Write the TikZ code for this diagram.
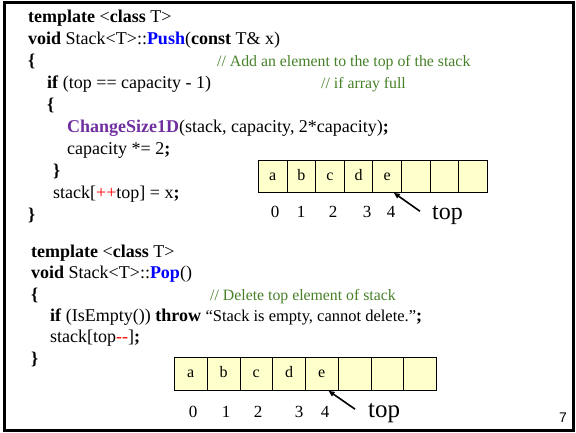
\documentclass[tikz,border=0pt]{standalone}
\usepackage{fontspec}
\setmainfont{Liberation Serif}
\newfontfamily\pagefont{Liberation Sans}
\usetikzlibrary{arrows.meta}

\definecolor{pushblue}{RGB}{0,0,255}
\definecolor{sizepurple}{RGB}{112,48,160}
\definecolor{cmtgreen}{RGB}{70,128,40}
\definecolor{cellyellow}{RGB}{255,255,204}

\newcommand{\kw}[1]{\textbf{#1}}
\newcommand{\cmt}[1]{{\fontsize{15.8}{18}\selectfont\color{cmtgreen}#1}}

\tikzset{
  code/.style={anchor=base west, inner sep=0pt, font=\fontsize{18}{21}\selectfont},
  cell/.style={draw, fill=cellyellow, line width=0.8pt, minimum height=32pt,
    inner sep=0pt, anchor=north west, text height=8pt, text depth=0pt,
    font=\fontsize{16}{18}\selectfont},
  idx/.style={anchor=base, inner sep=0pt, font=\fontsize{17}{19}\selectfont},
  toplabel/.style={anchor=base west, inner sep=0pt, font=\fontsize{24}{26}\selectfont},
  ptr/.style={-{Triangle[length=6pt,width=5pt]}, line width=1.6pt}
}

\begin{document}
\begin{tikzpicture}[x=1pt, y=-1pt]
\useasboundingbox (0,0) rectangle (576,433);
\draw[line width=3pt] (4,3) rectangle (573,430);

% Push
\node[code] (p1) at (28,23) {\kw{template} <\kw{class} T>};
\node[code] (p2) at (28,45) {\kw{void} Stack<T>::\kw{\textcolor{pushblue}{Push}}(\kw{const} T\& x)};
\node[code] (p3) at (28,67) {\kw{\{}};
\node[code] (c1) at (217,67) {\cmt{// Add an element to the top of the stack}};
\node[code] (p4) at (47,89) {\kw{if} (top == capacity - 1)};
\node[code] (c2) at (321,89) {\cmt{// if array full}};
\node[code] (p5) at (47,111) {\kw{\{}};
\node[code] (p6) at (67,133) {\kw{\textcolor{sizepurple}{ChangeSize1D}}(stack, capacity, 2*capacity)\kw{;}};
\node[code] (p7) at (67,155) {capacity *= 2\kw{;}};
\node[code] (p8) at (53,177) {\kw{\}}};
\node[code] (p9) at (53,198) {stack[\textcolor{red}{++}top] = x\kw{;}};
\node[code] (p10) at (28,220) {\kw{\}}};

\foreach \c [count=\i from 0] in {a,b,c,d,e,,,} {
  \node[cell, minimum width=28.6pt] (a\i) at (258+28.6*\i,160) {\c};
}
\foreach \n/\x in {0/275,1/301,2/333,3/367,4/391} {
  \node[idx] (ia\n) at (\x,218) {\n};
}
\node[toplabel] (topA) at (432,219) {top};
\draw[ptr] ([xshift=-12pt,yshift=3.5pt]topA.west) -- ([xshift=-8pt]a4.south east);

% Pop
\node[code] (q1) at (31,257) {\kw{template} <\kw{class} T>};
\node[code] (q2) at (31,278) {\kw{void} Stack<T>::\kw{\textcolor{pushblue}{Pop}}()};
\node[code] (q3) at (31,300) {\kw{\{}};
\node[code] (c3) at (210,300) {\cmt{// Delete top element of stack}};
\node[code] (q4) at (50,321) {\kw{if} (IsEmpty()) \kw{throw} {\fontsize{16.5}{19}\selectfont “Stack is empty, cannot delete.”}\kw{;}};
\node[code] (q5) at (50,342) {stack[top\textcolor{red}{-{}-}]\kw{;}};
\node[code] (q6) at (31,364) {\kw{\}}};

\foreach \c [count=\i from 0] in {a,b,c,d,e,,,} {
  \node[cell, minimum width=32.75pt, minimum height=33pt] (b\i) at (174+32.75*\i,357) {\c};
}
\foreach \n/\x in {0/193,1/226,2/258,3/299,4/325} {
  \node[idx] (ib\n) at (\x,417) {\n};
}
\node[toplabel, font=\fontsize{25}{27}\selectfont] (topB) at (368,417) {top};
\draw[ptr] ([xshift=-13pt,yshift=3.5pt]topB.west) -- ([xshift=-10pt]b4.south east);

\node[anchor=base, inner sep=0pt, font=\pagefont\fontsize{14}{16}\selectfont] (pg) at (563,422) {7};
\end{tikzpicture}
\end{document}
